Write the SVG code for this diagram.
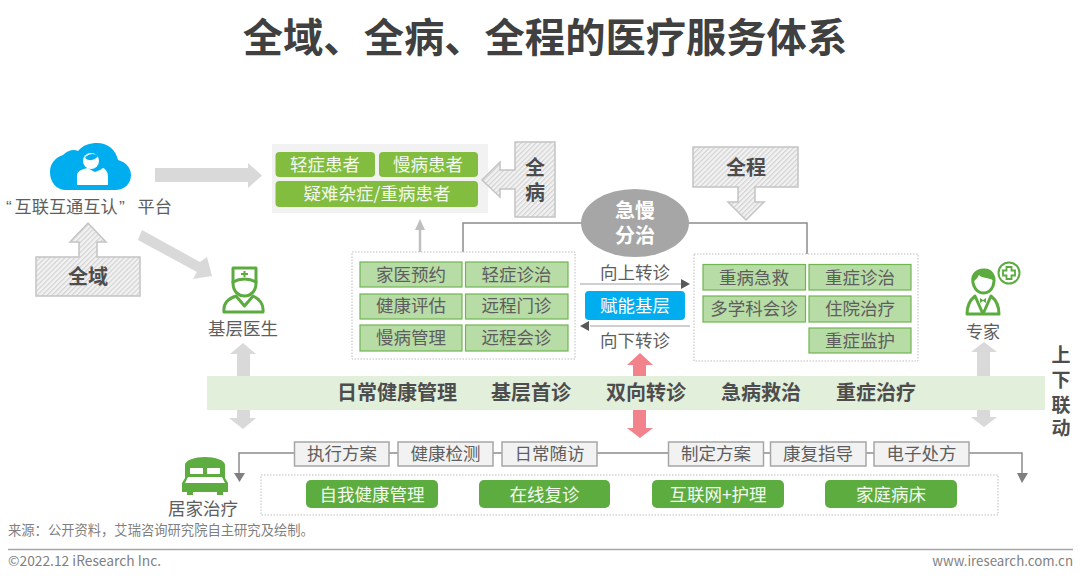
<svg xmlns="http://www.w3.org/2000/svg" width="1080" height="584" viewBox="0 0 1080 584">
<style>
text{font-family:"Noto Sans CJK SC","Noto Sans",sans-serif;text-anchor:middle;fill:#5e5e5e}
text.tight{font-family:"Liberation Sans","Noto Sans CJK SC",sans-serif}
.b{font-weight:700;fill:#4d4d4d}
.w{fill:#f4f9f0}
.t17{font-size:17.500px}
.band{font-size:20px}
.h20{font-size:20px}
.cell{fill:#b8dca6;stroke:#6fb552;stroke-width:1.2}
.pat{fill:#82bd40}
.btn{fill:#5dac3f}
.gbox{fill:#f2f2f2;stroke:#a6a6a6;stroke-width:1.5}
.dot{fill:#fff;stroke:#bdbdbd;stroke-width:1;stroke-dasharray:1.500 1.500}
.hatch{fill:url(#h);stroke:#c4c4c4;stroke-width:1.500}
.ga{fill:#d9d9d9}
.ln{fill:none;stroke:#8c8c8c;stroke-width:1.500}
.ic{fill:none;stroke:#5cab3f;stroke-width:3;stroke-linejoin:round;stroke-linecap:round}
.foot{font-size:13.300px;fill:#7f7f7f}
</style>
<defs>
<pattern id="h" width="3.500" height="3.500" patternUnits="userSpaceOnUse" patternTransform="rotate(-45)">
<rect width="3.500" height="3.500" fill="#f2f2f2"/><rect width="3.500" height="1.200" fill="#d2d2d2"/>
</pattern>
</defs>
<text x="545" y="52" style="font-size:40.300px;fill:#404040" class="b">全域、全病、全程的医疗服务体系</text>

<g id="connectors">
<path class="ga" d="M155 168H248V163L262 175.500L248 188V182H155Z"/>
<path class="ga" d="M142 230L200 262L207 257L212 276L193 279L197 272L138 240Z"/>
<path class="ln" d="M463 252V223H582M688 223H807V254"/>
<path d="M420 252V228" stroke="#bfbfbf" stroke-width="2.500" fill="none"/>
<path d="M420 219L425 230H415Z" fill="#bfbfbf"/>
<path d="M580 284H682" stroke="#bfbfbf" stroke-width="1.500"/>
<path d="M681 279L690 284L681 289Z" fill="#595959"/>
<path d="M590 326H690" stroke="#bfbfbf" stroke-width="1.500"/>
<path d="M589 321L580 326L589 331Z" fill="#595959"/>
<path class="ga" d="M243 343L256 354H250V376H237V354H230Z"/>
<path class="ga" d="M237 410H250V418H256L243 429L229 418H237Z"/>
<path class="ga" d="M984 342L997 352H990V376H977V352H971Z"/>
<path class="ga" d="M977 410H990V417H997L984 427L971 417H977Z"/>
<path class="ln" d="M294 453H239V474M389 453H398M493 453H502M597 453H668M763 453H770M866 453H874M969 453H1022V474"/>
<path d="M234 473H245L239.500 482Z" fill="#7f7f7f"/>
<path d="M1017 473H1028L1022 483Z" fill="#7f7f7f"/>
</g>

<g id="band"><rect x="207" y="376" width="838" height="34" fill="#e2efda"/>
<text class="b band" x="397" y="400">日常健康管理</text>
<text class="b band" x="531" y="400">基层首诊</text>
<text class="b band" x="646" y="400">双向转诊</text>
<text class="b band" x="761" y="400">急病救治</text>
<text class="b band" x="876" y="400">重症治疗</text>
</g>
<g id="pink-arrows">
<path fill="#f2838c" d="M640 353L653 365H646V376H633V365H627Z"/>
<path fill="#f2838c" d="M633 410H646V428H653L640 438L627 428H633Z"/>
</g>

<g id="platform">
<path fill="#00aeef" d="M66 190C56 190 50 182 50 172C50 163 56 157 63 155C68 150 74 149 78 151C83 145 90 143 97 143C108 143 116 150 118 160C126 162 131 168 131 175C131 184 124 190 115 190Z"/>
<path fill="#fff" d="M77 185V176C77 171 82 169 88 168L91 170L95 172L100 170L103 168C104 168 108 171 108 176V185Z"/>
<ellipse cx="91" cy="161" rx="8" ry="8" fill="#fff"/>
<path d="M85 158C90 162 95 160 98 156C95 153 88 153 85 158Z" fill="#00aeef"/>
<text y="213" style="font-size:17.200px;text-anchor:start"><tspan x="6" style="font-family:'Liberation Sans',sans-serif">“</tspan><tspan x="14.500">互联互通互认</tspan><tspan x="119" style="font-family:'Liberation Sans',sans-serif">”</tspan><tspan x="137.500">平台</tspan></text>
</g>

<g id="quanyu">
<path class="hatch" d="M36 257H79V242H70L88 223L106 242H97V257H140V296H36Z"/>
<text class="b h20" x="88" y="284">全域</text>
</g>

<g id="doctor">
<path class="ic" d="M233 268H256V283C256 292 250 296 244.500 296C239 296 233 292 233 283Z"/>
<path class="ic" d="M233 282C240 278 249 278 256 282"/>
<path d="M241 274H248M244.500 271V277" stroke="#5cab3f" stroke-width="2"/>
<path class="ic" d="M236 296C228 299 223 303 224 312H263C264 303 259 299 253 296L244.500 306Z"/>
<text x="243" y="335" class="t17">基层医生</text>
</g>

<g id="patients">
<rect x="272" y="144" width="216" height="69" fill="#f2f2f2"/>
<rect class="pat" x="275.500" y="152" width="99.500" height="25" rx="4"/>
<rect class="pat" x="379" y="152" width="99" height="25" rx="4"/>
<rect class="pat" x="275.500" y="181" width="202.500" height="26" rx="4"/>
<text class="w t17" x="325" y="171">轻症患者</text>
<text class="w t17" x="428" y="171">慢病患者</text>
<text class="w t17" x="377" y="200">疑难杂症/重病患者</text>
</g>

<g id="quanbing">
<path class="hatch" d="M515 142H555V217H515V189H500V197L482 180L500 162V170H515Z"/>
<text class="b h20 tight" x="535" y="175">全<tspan x="535" dy="25">病</tspan></text>
</g>

<g id="quancheng">
<path class="hatch" d="M693 147H798V187H755V202H764L746 220L728 202H738V187H693Z"/>
<text class="b h20" x="746" y="175">全程</text>
</g>

<g id="jiman">
<ellipse cx="635" cy="223" rx="54" ry="34" fill="#a6a6a6"/>
<text class="b h20 tight" x="635" y="218" style="fill:#fff">急慢<tspan x="635" dy="25">分治</tspan></text>
</g>

<g id="primary-care">
<rect class="dot" x="352" y="252" width="223" height="107"/>
<rect class="cell" x="360" y="262" width="102" height="25"/>
<rect class="cell" x="465.500" y="262" width="102.500" height="25"/>
<rect class="cell" x="360" y="294" width="102" height="25"/>
<rect class="cell" x="465.500" y="294" width="102.500" height="25"/>
<rect class="cell" x="360" y="325" width="102" height="26"/>
<rect class="cell" x="465.500" y="325" width="102.500" height="26"/>
<text class="t17" x="411" y="281">家医预约</text>
<text class="t17" x="516.500" y="281">轻症诊治</text>
<text class="t17" x="411" y="312">健康评估</text>
<text class="t17" x="516.500" y="312">远程门诊</text>
<text class="t17" x="411" y="344">慢病管理</text>
<text class="t17" x="516.500" y="344">远程会诊</text>
</g>

<g id="referral">
<text class="t17" x="635" y="279">向上转诊</text>
<rect x="585" y="291" width="100" height="29" rx="4" fill="#00aeef"/>
<text class="t17" x="635" y="312" style="fill:#fff">赋能基层</text>
<text class="t17" x="635" y="347">向下转诊</text>
</g>

<g id="hospital">
<rect class="dot" x="694" y="254" width="224" height="107"/>
<rect class="cell" x="703" y="264.500" width="102.500" height="25.500"/>
<rect class="cell" x="809" y="264.500" width="102" height="25.500"/>
<rect class="cell" x="703" y="296" width="102.500" height="26"/>
<rect class="cell" x="809" y="296" width="102" height="26"/>
<rect class="cell" x="809" y="328" width="102" height="25"/>
<text class="t17" x="754" y="284">重病急救</text>
<text class="t17" x="860" y="284">重症诊治</text>
<text class="t17" x="754" y="315">多学科会诊</text>
<text class="t17" x="860" y="315">住院治疗</text>
<text class="t17" x="860" y="347">重症监护</text>
</g>

<g id="expert">
<path class="ic" d="M974 286C970 276 976 270 984 270C992 270 996 277 993 286C991 291 987 293 983.500 293C980 293 976 291 974 286Z"/>
<path d="M973 282C973 273 978 269 984 269C990 269 995 273 994 281C990 277 982 279 979 275C978 278 975 280 973 282Z" fill="#5cab3f"/>
<path class="ic" d="M975 296C970 300 967 306 967 314H999C999 306 996 300 991 296L983 314Z"/>
<path d="M980 298L983 300L986 298V303L983 301L980 303Z" fill="#5cab3f"/>
<circle cx="1009" cy="273" r="10.500" fill="none" stroke="#5cab3f" stroke-width="2"/>
<path d="M1006.500 267H1011.500V270.500H1015V275.500H1011.500V279H1006.500V275.500H1003V270.500H1006.500Z" fill="none" stroke="#5cab3f" stroke-width="1.800"/>
<text x="983" y="338" style="font-size:17px">专家</text>
</g>

<g id="updown">
<text class="b tight" x="1061" y="362" style="font-size:19px">上<tspan x="1061" dy="25">下</tspan><tspan x="1061" dy="25">联</tspan><tspan x="1061" dy="23">动</tspan></text>
</g>

<g id="home">
<path fill="#5dac3f" fill-rule="evenodd" d="M185 478V465C185 460 195 457 205 457C215 457 225 460 225 465V478L228 483V492H223V495H217V492H193V495H187V492H182V483ZM190 468V474H203V468ZM207 468V474H220V468ZM188 477L185 483H225L222 477Z"/>
<text class="t17" x="203" y="515">居家治疗</text>
</g>

<g id="tasks">
<rect class="gbox" x="294.500" y="442" width="94.500" height="24"/>
<rect class="gbox" x="398" y="442" width="95" height="24"/>
<rect class="gbox" x="502" y="442" width="95" height="24"/>
<rect class="gbox" x="668.500" y="442" width="95" height="24"/>
<rect class="gbox" x="770.500" y="442" width="95.500" height="24"/>
<rect class="gbox" x="874" y="442" width="95" height="24"/>
<text class="t17" x="342" y="460">执行方案</text>
<text class="t17" x="445.500" y="460">健康检测</text>
<text class="t17" x="549.500" y="460">日常随访</text>
<text class="t17" x="716" y="460">制定方案</text>
<text class="t17" x="818" y="460">康复指导</text>
<text class="t17" x="921.500" y="460">电子处方</text>
</g>

<g id="home-services">
<rect class="dot" x="261" y="475" width="737" height="40"/>
<rect class="btn" x="306" y="480" width="132" height="28" rx="5"/>
<rect class="btn" x="479" y="480" width="131" height="28" rx="5"/>
<rect class="btn" x="652" y="480" width="132" height="28" rx="5"/>
<rect class="btn" x="825" y="480" width="132" height="28" rx="5"/>
<text class="w t17" x="372" y="501">自我健康管理</text>
<text class="w t17" x="544.500" y="501">在线复诊</text>
<text class="w t17" x="718" y="501">互联网+护理</text>
<text class="w t17" x="891" y="501">家庭病床</text>
</g>

<text class="foot" x="8" y="535" style="text-anchor:start">来源：公开资料，艾瑞咨询研究院自主研究及绘制。</text>
<path d="M8 549.500H1073" stroke="#a6a6a6" stroke-width="1.500"/>
<text class="foot" x="8" y="566" style="text-anchor:start;font-size:13.800px">©2022.12 iResearch Inc.</text>
<text class="foot" x="1073" y="566" style="text-anchor:end">www.iresearch.com.cn</text>
</svg>
